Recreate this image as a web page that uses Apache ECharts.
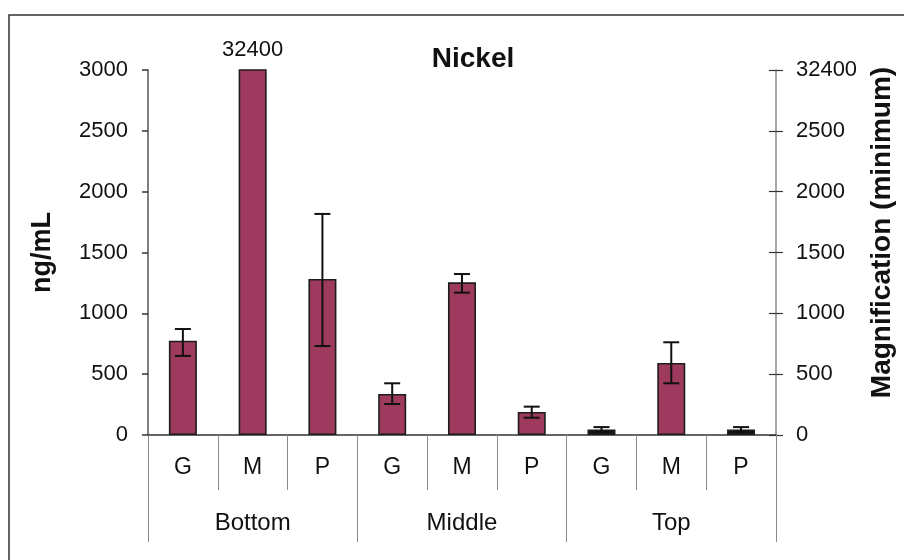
<!DOCTYPE html>
<html>
<head>
<meta charset="utf-8">
<script src="https://cdn.jsdelivr.net/npm/echarts@6/dist/echarts.min.js"></script>
<style>
  html, body { margin: 0; padding: 0; background: #fff; }
  #chart { width: 904px; height: 560px; }
</style>
</head>
<body>
<div id="chart"></div>
<script>
// Sampling location groups and fraction labels
const groups = ['Bottom', 'Middle', 'Top'];
const fractions = ['G', 'M', 'P', 'G', 'M', 'P', 'G', 'M', 'P'];

// Nickel concentration (ng/mL), one value per fraction
const nickel = [775, 32400, 1282, 337, 1255, 189, 45, 592, 45];
// Error bar ends (low / high), null where no bar is drawn
const errLow = [650, null, 731, 255, 1170, 142, 25, 425, 25];
const errHigh = [871, null, 1817, 425, 1323, 233, 65, 762, 65];

// Axis ticks (the top of the right scale is the broken-axis value)
const leftTicks = [0, 500, 1000, 1500, 2000, 2500, 3000];
const rightTickLabels = ['0', '500', '1000', '1500', '2000', '2500', '32400'];

const yMax = leftTicks[leftTicks.length - 1];
const yStep = leftTicks[1] - leftTicks[0];
const FONT = '"Liberation Sans", Arial, Helvetica, sans-serif';

const errData = [];
errLow.forEach((lo, i) => {
  if (lo !== null && errHigh[i] !== null) errData.push([i, lo, errHigh[i]]);
});

const chart = echarts.init(document.getElementById('chart'), null, { renderer: 'canvas' });

chart.setOption({
  animation: false,
  backgroundColor: '#ffffff',
  textStyle: { fontFamily: FONT },
  title: {
    text: 'Nickel',
    left: 468,
    top: 40,
    textAlign: 'center',
    textStyle: { fontFamily: FONT, fontSize: 28, fontWeight: 'bold', color: '#111' }
  },
  graphic: [{
    type: 'rect',
    shape: { x: 9, y: 15, width: 1000, height: 1000 },
    style: { fill: 'none', stroke: '#333', lineWidth: 1.5 },
    silent: true,
    z: -1
  }],
  grid: { left: 148, right: 125, top: 70, bottom: 125, containLabel: false },
  xAxis: [{
    type: 'category',
    data: fractions,
    position: 'bottom',
    axisLine: { show: true, lineStyle: { color: '#333', width: 1.5 } },
    axisTick: { show: true, interval: 0, length: 55, lineStyle: { color: '#888', width: 1 } },
    axisLabel: { interval: 0, margin: 21, fontSize: 23, color: '#111', fontFamily: FONT },
    splitLine: { show: false }
  }, {
    type: 'category',
    data: groups,
    position: 'bottom',
    axisLine: { show: false },
    axisTick: { show: true, interval: 0, length: 107, lineStyle: { color: '#888', width: 1 } },
    axisLabel: { interval: 0, margin: 76, fontSize: 24, color: '#111', fontFamily: FONT },
    splitLine: { show: false }
  }],
  yAxis: [{
    type: 'value',
    position: 'left',
    min: 0,
    max: yMax,
    interval: yStep,
    name: 'ng/mL',
    nameLocation: 'middle',
    nameRotate: 90,
    nameGap: 92,
    nameTextStyle: { fontFamily: FONT, fontSize: 27, fontWeight: 'bold', color: '#111' },
    axisLine: { show: true, lineStyle: { color: '#555', width: 1.5 } },
    axisTick: { show: true, inside: false, length: 6, lineStyle: { color: '#333', width: 1.5 } },
    axisLabel: {
      margin: 20, fontSize: 22, color: '#111', fontFamily: FONT,
      formatter: v => String(v)
    },
    splitLine: { show: false }
  }, {
    type: 'value',
    position: 'right',
    min: 0,
    max: yMax,
    interval: yStep,
    name: 'Magnification (minimum)',
    nameLocation: 'middle',
    nameRotate: 90,
    nameGap: 88,
    nameTextStyle: {
      fontFamily: FONT, fontSize: 28, fontWeight: 'bold', color: '#111',
      padding: [0, 0, 0, 40]
    },
    axisLine: { show: true, lineStyle: { color: '#888', width: 1.5 } },
    axisTick: { show: true, inside: false, length: 7, lineStyle: { color: '#333', width: 1.2 } },
    axisLabel: {
      margin: 20, fontSize: 22, color: '#111', fontFamily: FONT,
      formatter: v => rightTickLabels[Math.round(v / yStep)]
    },
    splitLine: { show: false }
  }, {
    // inner half of the crossing ticks on the right scale
    type: 'value',
    position: 'right',
    min: 0,
    max: yMax,
    interval: yStep,
    axisLine: { show: false },
    axisTick: { show: true, inside: true, length: 7, lineStyle: { color: '#333', width: 1.2 } },
    axisLabel: { show: false },
    splitLine: { show: false }
  }],
  series: [{
    type: 'bar',
    xAxisIndex: 0,
    yAxisIndex: 0,
    barWidth: 28,
    clip: true,
    data: nickel.map(v => ({
      value: v,
      label: { show: v > yMax }
    })),
    itemStyle: {
      color: p => (p.value < 100 ? '#161616' : '#9e3a5e'),
      borderColor: '#1c1c1c',
      borderWidth: 1.6
    },
    label: {
      position: 'top',
      distance: 8,
      fontSize: 22,
      color: '#111',
      fontFamily: FONT,
      formatter: p => String(p.value)
    },
    z: 2
  }, {
    type: 'custom',
    xAxisIndex: 0,
    yAxisIndex: 0,
    data: errData,
    z: 5,
    renderItem: (params, api) => {
      const x = api.value(0);
      const lo = api.coord([x, api.value(1)]);
      const hi = api.coord([x, api.value(2)]);
      const half = 8;
      const style = { stroke: '#111', lineWidth: 2 };
      return {
        type: 'group',
        children: [
          { type: 'line', shape: { x1: hi[0], y1: hi[1], x2: lo[0], y2: lo[1] }, style },
          { type: 'line', shape: { x1: hi[0] - half, y1: hi[1], x2: hi[0] + half, y2: hi[1] }, style },
          { type: 'line', shape: { x1: lo[0] - half, y1: lo[1], x2: lo[0] + half, y2: lo[1] }, style }
        ]
      };
    }
  }]
});
</script>
</body>
</html>
